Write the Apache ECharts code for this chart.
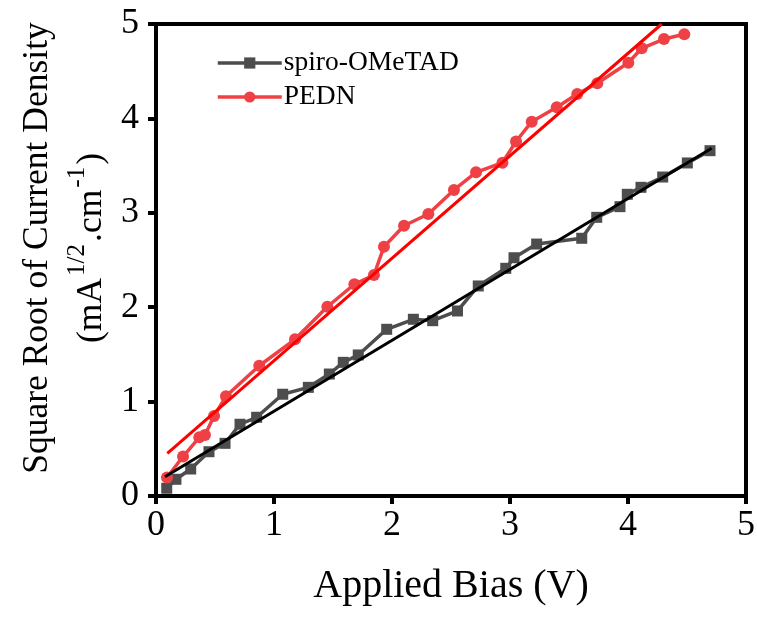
<!DOCTYPE html>
<html><head><meta charset="utf-8">
<script src="https://cdn.jsdelivr.net/npm/echarts@6/dist/echarts.min.js"></script>
<style>html,body{margin:0;padding:0;background:#fff}#c{width:757px;height:617px}</style>
</head><body><div id="c"></div>
<script>
const spiroX = [0.091,0.169,0.294,0.449,0.585,0.712,0.853,1.074,1.291,1.469,1.587,1.714,1.955,2.181,2.345,2.555,2.731,2.964,3.034,3.226,3.608,3.735,3.932,3.994,4.110,4.294,4.503,4.695];
const spiroY = [0.082,0.177,0.286,0.469,0.558,0.760,0.834,1.078,1.151,1.292,1.416,1.494,1.766,1.872,1.857,1.960,2.225,2.412,2.524,2.669,2.730,2.952,3.065,3.196,3.270,3.379,3.528,3.658];
const pednX = [0.093,0.229,0.367,0.415,0.492,0.593,0.875,1.178,1.452,1.681,1.847,1.932,2.102,2.308,2.525,2.712,2.936,3.051,3.184,3.396,3.570,3.740,4.003,4.116,4.305,4.477];
const pednY = [0.196,0.418,0.622,0.646,0.847,1.056,1.380,1.660,2.005,2.243,2.341,2.641,2.863,2.987,3.242,3.429,3.531,3.755,3.965,4.118,4.258,4.372,4.590,4.743,4.841,4.891];
const spiroFitX = [0.076,4.709];
const spiroFitY = [0.204,3.683];
const pednFitX = [0.096,4.286];
const pednFitY = [0.452,5.0];
const xTicks = [0,1,2,3,4,5];
const yTicks = [0,1,2,3,4,5];

const zip = (a,b)=>a.map((v,i)=>[v,b[i]]);
const font = 'Liberation Serif';
const chart = echarts.init(document.getElementById('c'), null, {renderer:'canvas'});
const axisLine = {show:true, onZero:false, lineStyle:{color:'#000', width:4, cap:'square'}};
chart.setOption({
  animation:false,
  backgroundColor:'#fff',
  grid:{left:156, right:11, top:24, bottom:121, containLabel:false, outerBoundsMode:'none'},
  legend:{
    data:['spiro-OMeTAD','PEDN'],
    left:211, top:44, orient:'vertical', itemGap:6,
    itemWidth:64, itemHeight:14,
    lineStyle:{width:3.5},
    textStyle:{fontFamily:font, fontSize:27.5, color:'#000', padding:[0,0,0,-3]}
  },
  xAxis:[{
    type:'value', min:0, max:5, interval:1,
    axisLine:axisLine,
    axisTick:{show:true, length:8, inside:false, lineStyle:{width:4, color:'#000'}},
    splitLine:{show:false},
    axisLabel:{fontFamily:font, fontSize:36, color:'#000', margin:12, formatter:v=>xTicks.includes(v)?String(v):''},
    name:'Applied Bias (V)', nameLocation:'middle', nameGap:70,
    nameTextStyle:{fontFamily:font, fontSize:40, color:'#000'}
  },{
    type:'value', position:'top', min:0, max:5, interval:1,
    axisLine:axisLine, axisTick:{show:false}, axisLabel:{show:false}, splitLine:{show:false}
  }],
  yAxis:[{
    type:'value', min:0, max:5, interval:1,
    axisLine:axisLine,
    axisTick:{show:true, length:8, inside:false, lineStyle:{width:4, color:'#000'}},
    splitLine:{show:false},
    axisLabel:{fontFamily:font, fontSize:36, color:'#000', margin:17, formatter:v=>yTicks.includes(v)?String(v):''},
    name:'{n|Square Root of Current Density}\n{n|(mA}{s|1/2}{n|.cm}{s|-1}{n|)}',
    nameLocation:'middle', nameRotate:90, nameGap:36,
    nameTextStyle:{fontFamily:font, color:'#000', align:'center', padding:[0,0,0,24],
      rich:{
        n:{fontFamily:font, fontSize:35.5, lineHeight:54, color:'#000'},
        s:{fontFamily:font, fontSize:25, lineHeight:54, color:'#000', verticalAlign:'top', padding:[0,2,12,2]}
      }}
  },{
    type:'value', position:'right', min:0, max:5, interval:1,
    axisLine:axisLine, axisTick:{show:false}, axisLabel:{show:false}, splitLine:{show:false}
  }],
  series:[
    {name:'spiro-OMeTAD', type:'line', data:zip(spiroX,spiroY), symbol:'rect', symbolSize:11,
     lineStyle:{color:'#4d4d4d', width:3.5}, itemStyle:{color:'#4d4d4d'}, z:3},
    {name:'PEDN', type:'line', data:zip(pednX,pednY), symbol:'circle', symbolSize:12,
     lineStyle:{color:'#ef4046', width:3.5}, itemStyle:{color:'#ef4046'}, z:3},
    {name:'spiroFit', type:'line', data:zip(spiroFitX,spiroFitY), symbol:'none',
     lineStyle:{color:'#000', width:3}, z:4},
    {name:'pednFit', type:'line', data:zip(pednFitX,pednFitY), symbol:'none',
     lineStyle:{color:'#ff0000', width:3}, z:4, clip:true}
  ]
});
</script></body></html>
